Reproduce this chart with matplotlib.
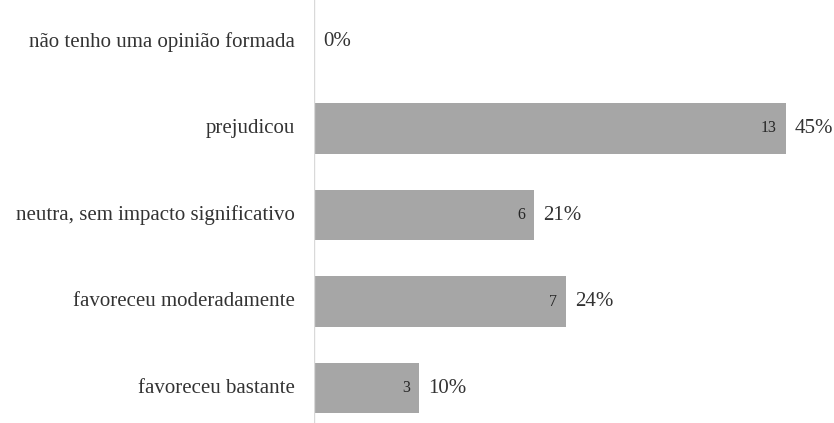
import matplotlib
matplotlib.use("Agg")
import matplotlib.pyplot as plt
from matplotlib.transforms import offset_copy

categories = ["não tenho uma opinião formada", "prejudicou",
              "neutra, sem impacto significativo", "favoreceu moderadamente",
              "favoreceu bastante"]
counts = [0, 13, 6, 7, 3]
percents = [0, 45, 21, 24, 10]

plt.rcParams['font.family'] = ['Liberation Serif', 'DejaVu Serif']
W, H = 834, 423
fig = plt.figure(figsize=(W / 100, H / 100), dpi=100)
x0, x45 = 314, 786
ax = fig.add_axes([x0 / W, 0, (x45 - x0) / W, 1])
ax.set_xlim(0, 45)
top_c, step = 42, 86.5
ax.set_ylim((H - top_c) / step, -top_c / step)

ypos = list(range(len(categories)))
ax.barh(ypos, percents, height=0.58, color="#a6a6a6", zorder=2)

txt = "#333333"
for y, c, p, cat in zip(ypos, counts, percents, categories):
    if c > 0:
        ax.text(p, y, str(c), ha="right", va="center", fontsize=11.5, color="#262626",
                transform=offset_copy(ax.transData, fig=fig, x=-9, y=0, units="dots"))
    ax.text(p, y, f"{p}%", ha="left", va="center", fontsize=15, color=txt,
            transform=offset_copy(ax.transData, fig=fig, x=9, y=0, units="dots"))
    ax.text(0, y, cat, ha="right", va="center", fontsize=15, color=txt,
            transform=offset_copy(ax.transData, fig=fig, x=-19, y=0, units="dots"))

ax.axvline(0, color="#d9d9d9", lw=1, zorder=3)
for s in ax.spines.values():
    s.set_visible(False)
ax.set_xticks([])
ax.set_yticks([])
ax.patch.set_alpha(0)
fig.savefig("out.png", dpi=100, facecolor="white")
